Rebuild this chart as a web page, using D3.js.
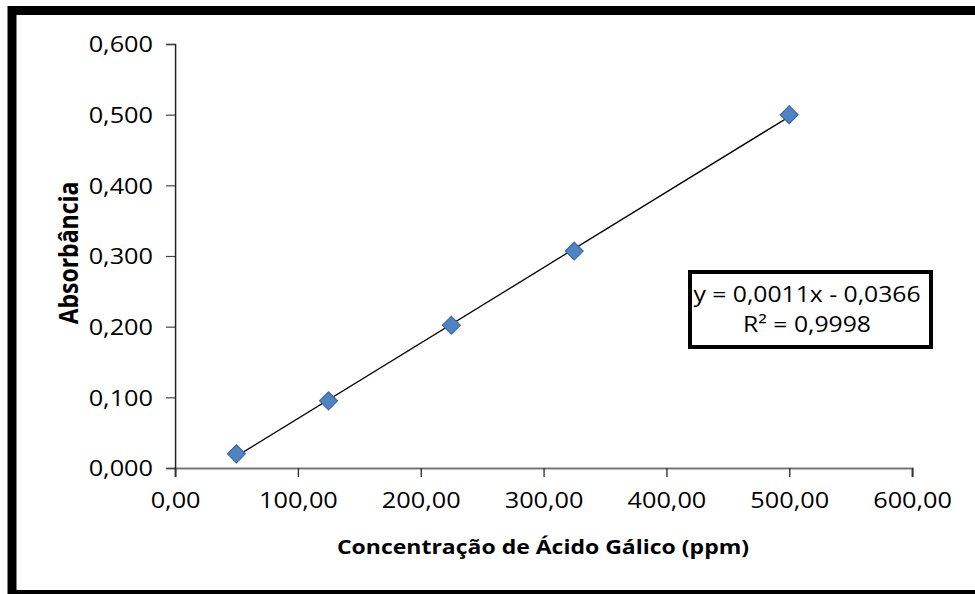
<!DOCTYPE html>
<html lang="pt">
<head>
<meta charset="UTF-8">
<title>Curva de calibração</title>
<script src="https://d3js.org/d3.v7.min.js"></script>
<style>
    body{ margin:0; background:#fff; }
    svg{ display:block; }
    .tick text{ font-family:"Open Sans", sans-serif; font-size:22px; fill:#000; }
    .title{ font-family:"Open Sans", sans-serif; font-weight:bold; font-size:20px; fill:#000; }
    .ytitle{ font-size:23px; }
    .eq{ font-family:"Open Sans", sans-serif; font-size:21.5px; fill:#000; }
</style>
</head>
<body>
<div id="fig"></div>
<script>
    // data
    let concentrations = [50, 125, 225, 325, 500]
    let absorbances = [0.020, 0.095, 0.202, 0.307, 0.500]
    let xTicks = [0, 100, 200, 300, 400, 500, 600]
    let yTicks = [0, 0.1, 0.2, 0.3, 0.4, 0.5, 0.6]
    let equationText = ["y = 0,0011x - 0,0366", "R² = 0,9998"]
    let xTitle = "Concentração de Ácido Gálico (ppm)"
    let yTitle = "Absorbância"

    let W = 975, H = 594
    let k = 1.15   // the original picture is stretched sideways
    let sx = v => v / k

    let svg = d3.select("#fig").append("svg")
        .attr("width", W).attr("height", H)
        .attr("viewBox", `0 0 ${sx(W)} ${H}`)
        .attr("preserveAspectRatio", "none")

    let br = d3.formatLocale({decimal: ",", thousands: ".", grouping: [3], currency: ["", ""]})

    let xScale = d3.scaleLinear().domain([0, 600]).range([sx(175), sx(912)])
    let yScale = d3.scaleLinear().domain([0, 0.6]).range([468, 44])

    // outer frame
    svg.append("rect")
        .attr("x", sx(12)).attr("y", 10.5)
        .attr("width", sx(990)).attr("height", 584)
        .attr("fill", "none").attr("stroke", "#000")
        .attr("stroke-width", 9)
        .attr("vector-effect", "non-scaling-stroke")

    // axes
    let xAxis = svg.append("g")
        .attr("transform", `translate(0,${yScale(0)})`)
        .call(d3.axisBottom(xScale).tickValues(xTicks).tickSize(9).tickFormat(br.format(".2f")))
    xAxis.select(".domain").attr("stroke", "#777").attr("stroke-width", 2)
    xAxis.selectAll(".tick line").attr("stroke", "#333").attr("stroke-width", 1.2)
    xAxis.selectAll(".tick text").attr("y", 24)

    let yAxis = svg.append("g")
        .attr("transform", `translate(${xScale(0)},0)`)
        .call(d3.axisLeft(yScale).tickValues(yTicks).tickSize(sx(9)).tickFormat(br.format(".3f")))
    yAxis.select(".domain").attr("stroke", "#222").attr("stroke-width", 1.3)
    yAxis.selectAll(".tick line").attr("stroke", "#444").attr("stroke-width", 1.2)
    yAxis.selectAll(".tick text").attr("x", -sx(22)).attr("dy", "0.35em")

    // linear trend line fitted to the points
    let mx = d3.mean(concentrations), my = d3.mean(absorbances)
    let sxy = d3.sum(concentrations, (d, i) => (d - mx) * (absorbances[i] - my))
    let sxx = d3.sum(concentrations, d => (d - mx) * (d - mx))
    let slope = sxy / sxx, intercept = my - slope * mx
    let xr = d3.extent(concentrations)
    svg.append("line")
        .attr("x1", xScale(xr[0])).attr("y1", yScale(slope * xr[0] + intercept))
        .attr("x2", xScale(xr[1])).attr("y2", yScale(slope * xr[1] + intercept))
        .attr("stroke", "#000").attr("stroke-width", 1.3)

    // diamond markers
    let r = 9
    svg.selectAll(".pt")
        .data(concentrations)
        .enter()
        .append("path")
        .attr("class", "pt")
        .attr("d", (d, i) => {
            let cx = xScale(d), cy = yScale(absorbances[i])
            return `M${cx},${cy - r}L${cx + sx(r)},${cy}L${cx},${cy + r}L${cx - sx(r)},${cy}Z`
        })
        .attr("fill", "#4f83c2")
        .attr("stroke", "#3a679e")
        .attr("stroke-width", 1)

    // axis titles
    svg.append("text").attr("class", "title")
        .attr("x", sx(543)).attr("y", 547).attr("dy", "0.35em")
        .attr("text-anchor", "middle")
        .text(xTitle)

    svg.append("text").attr("class", "title ytitle")
        .attr("transform", `translate(${sx(69)},253) rotate(-90)`)
        .attr("dy", "0.35em")
        .attr("text-anchor", "middle")
        .text(yTitle)

    // equation box
    svg.append("rect")
        .attr("x", sx(690)).attr("y", 272)
        .attr("width", sx(241)).attr("height", 75)
        .attr("fill", "#fff").attr("stroke", "#000")
        .attr("stroke-width", 4)
        .attr("vector-effect", "non-scaling-stroke")
    svg.selectAll(".eq")
        .data(equationText)
        .enter()
        .append("text")
        .attr("class", "eq")
        .attr("x", sx(807))
        .attr("y", (d, i) => 294 + i * 30)
        .attr("dy", "0.35em")
        .attr("text-anchor", "middle")
        .text(d => d)
</script>
</body>
</html>
